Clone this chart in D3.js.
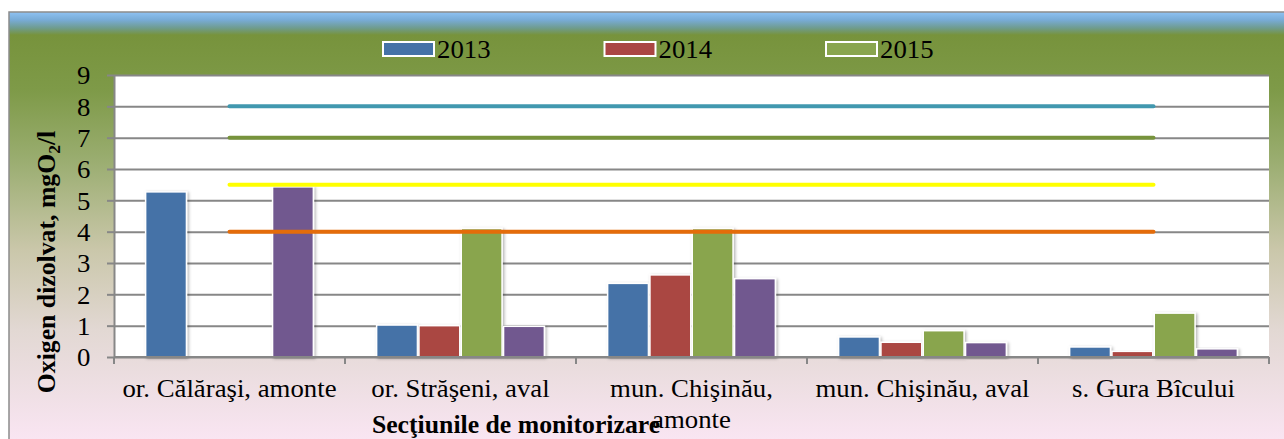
<!DOCTYPE html>
<html>
<head>
<meta charset="utf-8">
<script src="https://cdn.jsdelivr.net/npm/d3@7"></script>
<style>
  body { margin: 0; background: #fff; }
  text { font-family: "Liberation Serif", "Times New Roman", serif; fill: #000; }
</style>
</head>
<body>
<div id="chart"></div>
<script>
// Sectiuni de monitorizare
var categories = ["or. Călăraşi, amonte", "or. Străşeni, aval", "mun. Chişinău, amonte", "mun. Chişinău, aval", "s. Gura Bîcului"];

// Oxigen dizolvat pe ani (mgO2/l)
var values2013 = [5.27, 1.02, 2.35, 0.64, 0.32];
var values2014 = [null, 1.0, 2.62, 0.47, 0.18];
var values2015 = [null, 4.1, 4.1, 0.84, 1.4];
var values2016 = [5.43, 0.98, 2.5, 0.46, 0.26];

// limitele claselor de calitate
var limitClass1 = [8, 8, 8, 8, 8];
var limitClass2 = [7, 7, 7, 7, 7];
var limitClass3 = [5.5, 5.5, 5.5, 5.5, 5.5];
var limitClass4 = [4, 4, 4, 4, 4];

var legendLabels = ["2013", "2014", "2015"];
var yTicks = [0, 1, 2, 3, 4, 5, 6, 7, 8, 9];

var seriesValues = [values2013, values2014, values2015, values2016];
var seriesColors = ["#4572A7", "#AA4643", "#89A54E", "#71588F"];
var limitLines = [limitClass1, limitClass2, limitClass3, limitClass4];
var limitColors = ["#4198AF", "#77933C", "#FFFF00", "#E46C0A"];

var W = 1284, H = 439;
var sx = 1.03; // textul din original e putin latit
var fs = 26;
var plot = { left: 114, right: 1269, top: 75, bottom: 357 };

var svg = d3.select("#chart").append("svg")
    .attr("width", W)
    .attr("height", H);

var defs = svg.append("defs");
var grad = defs.append("linearGradient")
    .attr("id", "bg")
    .attr("gradientUnits", "userSpaceOnUse")
    .attr("x1", 0).attr("y1", 12).attr("x2", 0).attr("y2", H);
[[12, "#8EC2F3"], [20, "#78ABD6"], [28, "#6F9C8E"], [35, "#77933C"], [90, "#7E9A48"],
 [160, "#9AAD70"], [250, "#CAC7AA"], [330, "#E2D8D3"], [439, "#F9E5F2"]].forEach(function(s) {
    grad.append("stop").attr("offset", (s[0] - 12) / (H - 12)).attr("stop-color", s[1]);
});

var shadow = defs.append("filter").attr("id", "shadow")
    .attr("x", "-20%").attr("y", "-20%").attr("width", "140%").attr("height", "140%");
shadow.append("feDropShadow")
    .attr("dx", 1.5).attr("dy", 1).attr("stdDeviation", 1.5)
    .attr("flood-color", "#000").attr("flood-opacity", 0.3);

// fundal
svg.append("rect")
    .attr("x", 9).attr("y", 12)
    .attr("width", W).attr("height", H)
    .attr("fill", "url(#bg)")
    .attr("stroke", "#8C8C8C")
    .attr("stroke-width", 1.5);

svg.append("rect")
    .attr("x", plot.left).attr("y", plot.top)
    .attr("width", plot.right - plot.left).attr("height", plot.bottom - plot.top)
    .attr("fill", "#fff");

var y = d3.scaleLinear().domain([0, 9]).range([plot.bottom, plot.top]);
var x0 = d3.scaleBand().domain(categories).range([plot.left, plot.right]).paddingInner(0).paddingOuter(0);
var x1 = d3.scaleBand().domain(d3.range(seriesValues.length)).range([0, x0.bandwidth()]).paddingOuter(0.73).paddingInner(0);

function addText(parent, x, yy, str, size, weight, anchor) {
    return parent.append("text")
        .attr("transform", "translate(" + x + "," + yy + ") scale(" + sx + ",1)")
        .attr("text-anchor", anchor || "start")
        .style("font-size", size + "px")
        .style("font-weight", weight || "normal")
        .text(str);
}

// grila
svg.append("g")
    .attr("transform", "translate(" + plot.left + ",0)")
    .call(d3.axisLeft(y).tickValues(yTicks).tickSize(-(plot.right - plot.left)).tickFormat(""))
    .call(function(g) {
        g.select(".domain").remove();
        g.selectAll("line").attr("stroke", "#878787").attr("stroke-width", 2);
    });

// axa Y
var yAxis = svg.append("g")
    .attr("transform", "translate(" + plot.left + ",0)")
    .call(d3.axisLeft(y).tickValues(yTicks).tickSize(7).tickSizeOuter(0).tickPadding(16));
yAxis.select(".domain").attr("stroke", "#878787").attr("stroke-width", 2);
yAxis.selectAll("line").attr("stroke", "#878787").attr("stroke-width", 2);
yAxis.selectAll("text")
    .style("font-size", fs + "px")
    .attr("dy", "0.34em")
    .attr("transform", "scale(" + sx + ",1)");

// bare
var groups = svg.selectAll(".grp")
    .data(categories)
    .enter().append("g")
    .attr("class", "grp")
    .attr("transform", function(d) { return "translate(" + x0(d) + ",0)"; });

groups.selectAll("rect")
    .data(function(d, i) {
        return seriesValues.map(function(vals, s) { return { s: s, v: vals[i] }; })
            .filter(function(e) { return e.v != null; });
    })
    .enter().append("rect")
    .attr("x", function(d) { return x1(d.s) + 0.75; })
    .attr("y", function(d) { return y(d.v); })
    .attr("width", x1.bandwidth() - 1.5)
    .attr("height", function(d) { return y(0) - y(d.v); })
    .attr("fill", function(d) { return seriesColors[d.s]; })
    .attr("stroke", "#fff")
    .attr("stroke-width", 1.5)
    .attr("filter", "url(#shadow)");

// axa X
var xAxisY = plot.bottom;
svg.append("line")
    .attr("x1", plot.left).attr("x2", plot.right)
    .attr("y1", xAxisY).attr("y2", xAxisY)
    .attr("stroke", "#878787").attr("stroke-width", 2);
svg.selectAll(".xtick")
    .data(categories.concat(["end"]))
    .enter().append("line")
    .attr("class", "xtick")
    .attr("x1", function(d) { return d === "end" ? plot.right : x0(d); })
    .attr("x2", function(d) { return d === "end" ? plot.right : x0(d); })
    .attr("y1", xAxisY).attr("y2", xAxisY + 7)
    .attr("stroke", "#878787").attr("stroke-width", 2);

// etichete categorii, cu rupere pe randuri
var measure = svg.append("text").style("font-size", fs + "px");
categories.forEach(function(c) {
    var words = c.split(" "), lines = [], line = "";
    words.forEach(function(w) {
        var test = line ? line + " " + w : w;
        measure.text(test);
        if (line && measure.node().getComputedTextLength() * sx > x0.bandwidth() - 8) {
            lines.push(line);
            line = w;
        } else {
            line = test;
        }
    });
    lines.push(line);
    lines.forEach(function(l, k) {
        addText(svg, x0(c) + x0.bandwidth() / 2, 397 + k * 31, l, fs, "normal", "middle");
    });
});
measure.remove();

// liniile limitelor
var line = d3.line()
    .x(function(d, i) { return x0(categories[i]) + x0.bandwidth() / 2; })
    .y(function(d) { return y(d); });
svg.selectAll(".limit")
    .data(limitLines)
    .enter().append("path")
    .attr("class", "limit")
    .attr("d", line)
    .attr("fill", "none")
    .attr("stroke", function(d, i) { return limitColors[i]; })
    .attr("stroke-width", 4)
    .attr("stroke-linecap", "round");

// legenda
var legend = svg.selectAll(".leg")
    .data(legendLabels)
    .enter().append("g")
    .attr("class", "leg")
    .attr("transform", function(d, i) { return "translate(" + (383 + i * 221.5) + ",42)"; });
legend.append("rect")
    .attr("width", 51).attr("height", 14)
    .attr("fill", function(d, i) { return seriesColors[i]; })
    .attr("stroke", "#fff").attr("stroke-width", 2);
legend.each(function(d) {
    addText(d3.select(this), 54, 16, d, fs);
});

// titlu axa X
addText(svg, 516, 433, "Secţiunile de monitorizare", fs - 1, "bold", "middle");

// titlu axa Y
var yTitle = svg.append("text")
    .attr("transform", "translate(55,262) rotate(-90) scale(" + sx + ",1)")
    .attr("text-anchor", "middle")
    .style("font-size", (fs - 1) + "px")
    .style("font-weight", "bold");
yTitle.append("tspan").text("Oxigen dizolvat, mgO");
yTitle.append("tspan").attr("dy", 5).style("font-size", "17px").text("2");
yTitle.append("tspan").attr("dy", -5).text("/l");
</script>
</body>
</html>
